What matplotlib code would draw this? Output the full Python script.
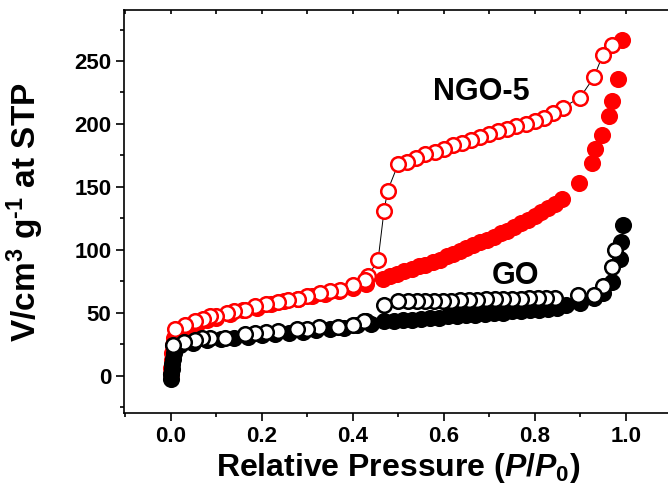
# Imports
import matplotlib
matplotlib.use('Agg')
import matplotlib.pyplot as plt
from matplotlib.ticker import MultipleLocator

# Fonts: bold Arial-like everywhere, mathtext in the same family
plt.rcParams['font.family'] = ['Liberation Sans', 'DejaVu Sans']
plt.rcParams['font.weight'] = 'bold'
plt.rcParams['mathtext.fontset'] = 'custom'
plt.rcParams['mathtext.rm'] = 'Liberation Sans:bold'
plt.rcParams['mathtext.it'] = 'Liberation Sans:italic:bold'
plt.rcParams['mathtext.bf'] = 'Liberation Sans:bold'
plt.rcParams['mathtext.default'] = 'bf'

# Data
# NGO-5 adsorption (filled red)
ngo_ads_p = [0.0005, 0.001, 0.002, 0.003, 0.005, 0.008, 0.02, 0.04, 0.06, 0.08,
             0.10, 0.13, 0.16, 0.19, 0.22, 0.25, 0.28, 0.31, 0.34, 0.37,
             0.40, 0.43, 0.467, 0.482, 0.497, 0.512, 0.53, 0.545, 0.56, 0.577,
             0.592, 0.607, 0.62, 0.635, 0.65, 0.665, 0.68, 0.695, 0.71, 0.725,
             0.74, 0.755, 0.77, 0.785, 0.80, 0.815, 0.83, 0.845, 0.86, 0.897,
             0.925, 0.932, 0.947, 0.963, 0.97, 0.983, 0.993]
ngo_ads_v = [1, 6, 12, 18, 24, 30, 35, 39, 42, 44,
             46, 49, 52, 54, 57, 59, 61, 63, 65, 67,
             70, 73, 77, 79, 81, 83, 85, 87, 88, 90,
             92, 95, 97, 99, 101, 104, 106, 108, 110, 113,
             115, 118, 121, 124, 127, 130, 133, 136, 140, 153,
             169, 180, 191, 206, 218, 236, 267]

# NGO-5 desorption (open red)
ngo_des_p = [0.97, 0.95, 0.93, 0.90, 0.862, 0.84, 0.82, 0.80, 0.78, 0.76,
             0.74, 0.72, 0.70, 0.68, 0.66, 0.64, 0.62, 0.60, 0.58, 0.56,
             0.54, 0.52, 0.50, 0.477, 0.469, 0.456, 0.434, 0.427, 0.40, 0.372,
             0.35, 0.328, 0.30, 0.28, 0.258, 0.236, 0.21, 0.185, 0.163, 0.14,
             0.123, 0.10, 0.086, 0.071, 0.053, 0.031, 0.01]
ngo_des_v = [263, 255, 237, 221, 213, 209, 205, 202, 200, 198,
             196, 194, 192, 189.5, 187, 185, 183, 180, 178, 176,
             173, 170, 168, 147, 131, 92, 79, 76, 72, 68,
             67, 66, 63, 61, 60, 58.5, 57, 55, 52, 51,
             50, 47, 47, 45, 43, 40, 37]

# GO adsorption (filled black)
go_ads_p = [0.0005, 0.001, 0.002, 0.003, 0.005, 0.008, 0.02, 0.05, 0.08, 0.11,
            0.14, 0.17, 0.20, 0.23, 0.26, 0.29, 0.32, 0.35, 0.38, 0.41,
            0.44, 0.47, 0.49, 0.51, 0.53, 0.55, 0.57, 0.59, 0.61, 0.63,
            0.65, 0.67, 0.69, 0.71, 0.73, 0.75, 0.77, 0.79, 0.81, 0.83,
            0.85, 0.87, 0.90, 0.93, 0.95, 0.97, 0.987, 0.99, 0.995]
go_ads_v = [-3, 1, 5, 9, 13, 18, 24, 26, 28, 29,
            30, 31, 32, 33, 34, 35, 36, 37, 38, 40,
            41, 43, 43.5, 44, 44.5, 45, 45.5, 46, 47, 47.5,
            48, 48.5, 49, 49.5, 50, 51, 51.5, 52, 52.5, 53,
            54, 56, 58, 62, 66, 74, 93, 106, 120]

# GO desorption (open black)
go_des_p = [0.977, 0.97, 0.95, 0.93, 0.895, 0.845, 0.826, 0.807, 0.788, 0.769,
            0.75, 0.731, 0.712, 0.693, 0.674, 0.655, 0.636, 0.617, 0.598, 0.579,
            0.56, 0.541, 0.522, 0.50, 0.47, 0.43, 0.425, 0.40, 0.368, 0.326,
            0.30, 0.277, 0.236, 0.21, 0.185, 0.163, 0.12, 0.086, 0.07, 0.053,
            0.03, 0.005]
go_des_v = [100, 86.6, 71.5, 64, 64, 62, 62, 61.5, 61.5, 61,
            61, 61, 60.5, 60.5, 60, 60, 60, 59.5, 59.5, 59.5,
            59, 59, 59, 59, 56, 43, 43, 40, 39, 39,
            37, 37, 35.5, 35, 34, 33, 30, 30, 30, 28,
            27, 24.5]

# Init
fig = plt.figure(figsize=(6.68, 4.88), dpi=100)
ax = fig.add_axes([0.1856, 0.153, 0.8855, 0.8264])  # right edge runs off the figure
ax.set(xlim=(-0.1025, 1.1975), ylim=(-30, 290.5))

ms = 10.5  # marker size
mew = 1.8  # marker edge width
ax.plot(ngo_ads_p, ngo_ads_v, 'o', ms=ms, mew=mew, mfc='red', mec='red')
ax.plot(ngo_des_p, ngo_des_v, '-o', color='k', lw=0.7, ms=ms, mew=mew,
        mfc='white', mec='red')  # thin joining line only shows in the gaps
ax.plot(go_ads_p, go_ads_v, 'o', ms=ms, mew=mew, mfc='black', mec='black')
ax.plot(go_des_p, go_des_v, 'o', ms=ms, mew=mew, mfc='white', mec='black')

# Labels
ax.text(0.682, 225, 'NGO-5', fontsize=22, fontweight='bold', ha='center', va='center')
ax.text(0.759, 79, 'GO', fontsize=22, fontweight='bold', ha='center', va='center')
ax.set_xlabel(r'Relative Pressure ($\mathit{P/P}_{0}$)', fontsize=23, fontweight='bold')
ax.set_ylabel('V/cm$^{3}$ g$^{\u20101}$ at STP', fontsize=24, fontweight='bold')
ax.xaxis.set_label_coords(0.464, -0.094)
ax.yaxis.set_label_coords(-0.132, 0.5)

# Ticks
ax.xaxis.set_major_locator(MultipleLocator(0.2))
ax.xaxis.set_minor_locator(MultipleLocator(0.1))
ax.yaxis.set_major_locator(MultipleLocator(50))
ax.yaxis.set_minor_locator(MultipleLocator(25))
ax.tick_params(axis='both', which='major', direction='out', length=6, width=1.2,
               labelsize=16, pad=3)
ax.tick_params(axis='both', which='minor', direction='out', length=3, width=1.2)
ax.tick_params(axis='x', which='both', top=True)
for t in ax.xaxis.get_ticklines(minor=False)[1::2] + ax.xaxis.get_ticklines(minor=True)[1::2]:
    t.set_marker(3)  # top ticks point inward
    t.set_markersize(3)
for t in ax.get_xticklabels() + ax.get_yticklabels():
    t.set_fontweight('bold')
for s in ax.spines.values():
    s.set_linewidth(1.2)

# Save plot
fig.savefig('out.png', dpi=100)
